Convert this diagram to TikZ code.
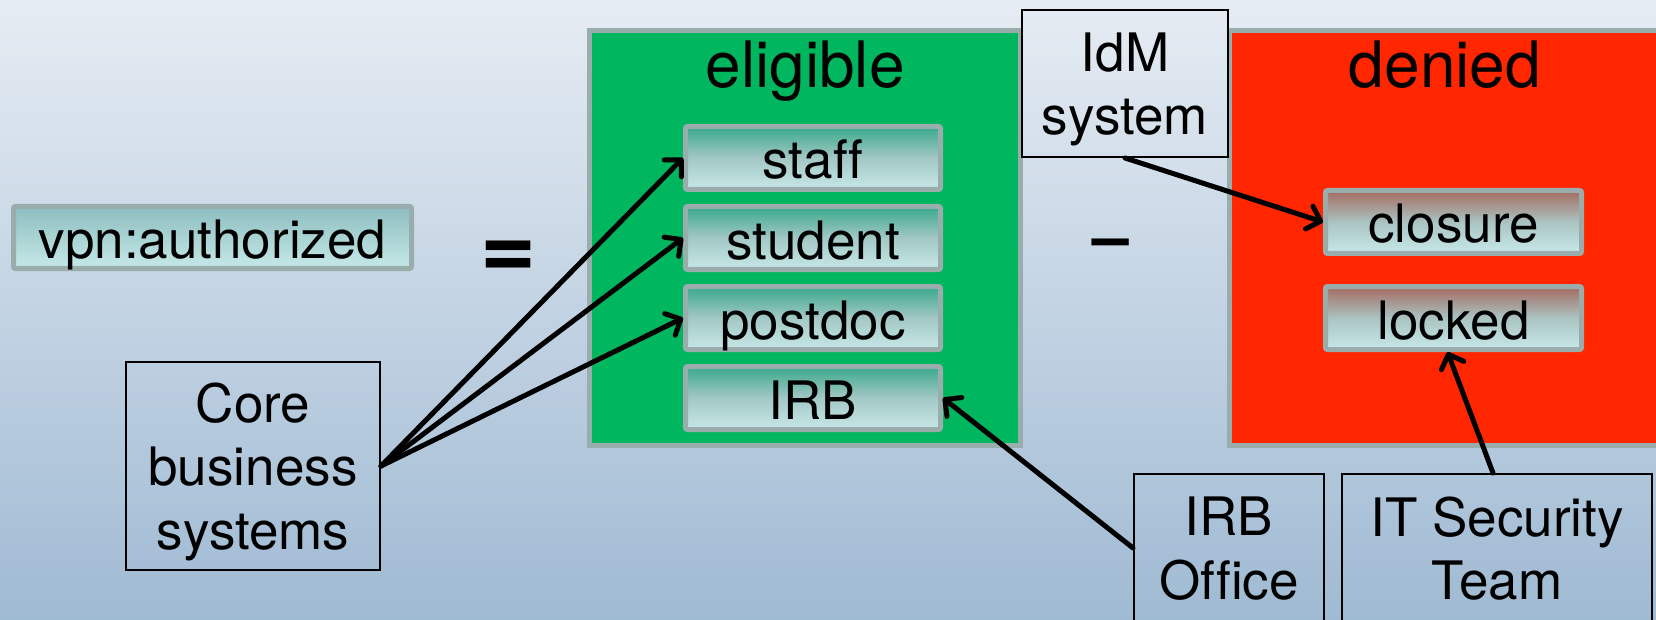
\documentclass[tikz,border=0pt]{standalone}
\usepackage{fontspec}
\setmainfont{TeX Gyre Heros}[Ligatures=CommonOff]
\usetikzlibrary{arrows.meta}

\definecolor{bgtop}{HTML}{E6ECF3}
\definecolor{bgbot}{HTML}{9FBAD3}
\definecolor{eligreen}{HTML}{00B65E}
\definecolor{denyred}{HTML}{FF2600}
\definecolor{frame}{HTML}{98ADAC}
\definecolor{tealtop}{HTML}{38A98B}
\definecolor{tealmid}{HTML}{A4C8C5}
\definecolor{cyanlow}{HTML}{C6E9E8}
\definecolor{rusttop}{HTML}{A46B61}
\definecolor{rustmid}{HTML}{AAC4C2}
\definecolor{vpntop}{HTML}{8DBDC1}
\definecolor{vpnmid}{HTML}{AAD3D3}

\begin{document}
\begin{tikzpicture}[x=1pt,y=-1pt,
  setbox/.style={draw=frame, line width=5pt, rounded corners=2pt,
    minimum width=255pt, minimum height=63pt, inner sep=0pt,
    text height=42pt, text depth=0pt, font=\fontsize{53}{63.5}\selectfont},
  goodset/.style={setbox, top color=tealtop, bottom color=cyanlow, middle color=tealmid},
  badset/.style={setbox, minimum width=256pt, top color=rusttop, bottom color=cyanlow, middle color=rustmid},
  group/.style={draw=frame, line width=5pt, inner sep=0pt, minimum height=415pt},
  title/.style={anchor=base, inner sep=0pt, font=\fontsize{64}{70}\selectfont},
  source/.style={draw=black, line width=2pt, align=center, inner sep=0pt,
    text depth=0pt, font=\fontsize{53}{63.5}\selectfont},
  feed/.style={line width=5pt, line cap=round,
    -{Straight Barb[length=12pt,width=24pt,round]}},
]
\useasboundingbox (0,0) rectangle (1656,620);
\shade[top color=bgtop, bottom color=bgbot] (0,0) rectangle (1656,620);

% the two sets
\node[group, fill=eligreen, minimum width=431pt] (eligible) at (805,238) {};
\node[group, fill=denyred, minimum width=450pt] (denied) at (1454.75,238) {};
\node[title] (eligtitle) at (805,88) {eligible};
\node[title] (denytitle) at (1445,88) {denied};

% members of the sets
\node[goodset] (staff)   at (813,158) {staff};
\node[goodset] (student) at (813,238) {student};
\node[goodset] (postdoc) at (813,318) {postdoc};
\node[goodset] (irb)     at (813,398) {IRB};
\node[badset] (closure) at (1453.5,222) {closure};
\node[badset] (locked)  at (1453.5,318) {locked};

% the resulting group and the operators
\node[setbox, minimum width=398pt, minimum height=62pt,
  top color=vpntop, bottom color=cyanlow, middle color=vpnmid] (vpn) at (212.5,237.5) {vpn:authorized};
\node[anchor=base, inner sep=0pt, font=\fontsize{96}{96}\selectfont\bfseries] (eq) at (509,279) {=};
\node[anchor=base, inner sep=0pt, font=\fontsize{66}{66}\selectfont\bfseries] (minus) at (1111,259) {–};

% sources of the data
\node[source, minimum width=254pt, minimum height=208pt] (core) at (253,466) {Core\\business\\systems};
\node[source, minimum width=206pt, minimum height=147pt] (idm) at (1125,83.5) {IdM\\system};
\node[source, minimum width=190pt, minimum height=148pt] (irboff) at (1229,548) {IRB\\Office};
\node[source, minimum width=310pt, minimum height=148pt] (itsec) at (1497,548) {IT Security\\Team};

% feeds
\draw[feed] (core.east) -- (staff.west);
\draw[feed] (core.east) -- (student.west);
\draw[feed] (core.east) -- (postdoc.west);
\draw[feed] (irboff.west) -- (irb.east);
\draw[feed] (idm.south) -- (closure.west);
\draw[feed] ([xshift=-4pt]itsec.north) -- ([xshift=-6pt]locked.south);
\end{tikzpicture}
\end{document}
